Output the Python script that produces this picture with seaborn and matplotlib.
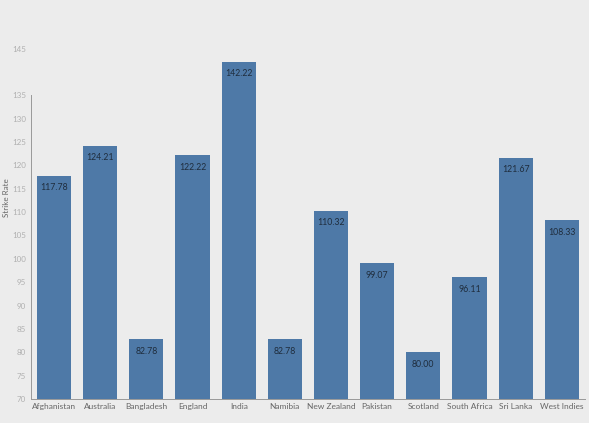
import matplotlib
matplotlib.use("Agg")
import matplotlib.pyplot as plt
import seaborn as sns
import pandas as pd

countries = ["Afghanistan", "Australia", "Bangladesh", "England", "India",
             "Namibia", "New Zealand", "Pakistan", "Scotland", "South Africa",
             "Sri Lanka", "West Indies"]
strike_rate = [117.78, 124.21, 82.78, 122.22, 142.22, 82.78, 110.32,
               99.07, 80.00, 96.11, 121.67, 108.33]
y_ticks = [70, 75, 80, 85, 90, 95, 100, 105, 110, 115, 120, 125, 130, 135, 145]

df = pd.DataFrame({"Country": countries, "Strike Rate": strike_rate})

sns.set_style("white")
plt.rcParams["font.family"] = ["Lato", "DejaVu Sans"]
bg = "#ececec"
fig = plt.figure(figsize=(5.89, 4.23), dpi=100, facecolor=bg)
ax = fig.add_axes([0.0526, 0.057, 0.9404, 0.883])
ax.set_facecolor(bg)

sns.barplot(data=df, x="Country", y="Strike Rate", color="#4e79a7",
            saturation=1, width=0.74, linewidth=0, ax=ax)

ax.bar_label(ax.containers[0], fmt="%.2f", padding=-12, fontsize=6.3,
             color="#1f2d3d")

ax.set_ylim(70, 150)
ax.set_yticks(y_ticks)
ax.set_yticklabels([str(t) for t in y_ticks])
ax.tick_params(axis="y", labelsize=5.8, colors="#b0b0b0", length=2.5,
               width=0.6, pad=1)
ax.tick_params(axis="x", labelsize=6, colors="#555555", length=0, pad=3)
for lbl in ax.get_xticklabels():
    lbl.set_color("#666666")
ax.set_xlabel("")
ax.set_ylabel("Strike Rate", fontsize=5.8, color="#666666")
ax.yaxis.set_label_coords(-0.038, 0.54)

for side in ["top", "right"]:
    ax.spines[side].set_visible(False)
ax.spines["left"].set_color("#999999")
ax.spines["left"].set_linewidth(0.7)
ax.spines["left"].set_bounds(70, 135)
ax.spines["bottom"].set_color("#999999")
ax.spines["bottom"].set_linewidth(0.7)
ax.set_xlim(-0.5, 11.5)

fig.savefig("out.png", dpi=100, facecolor=bg)
